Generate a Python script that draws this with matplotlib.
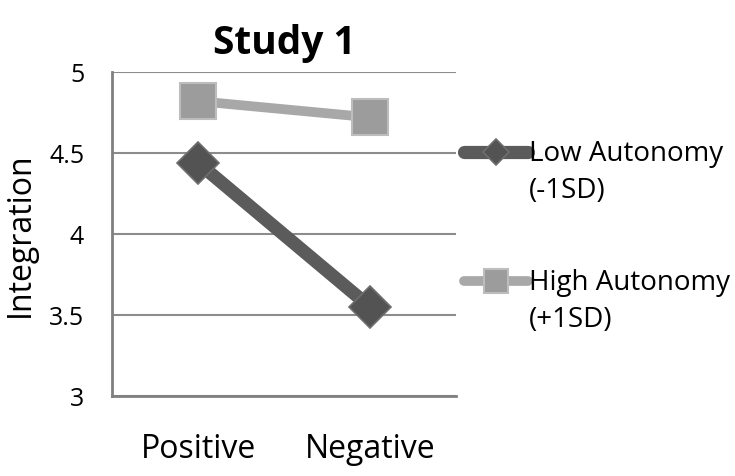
import matplotlib
matplotlib.use("Agg")
import matplotlib.pyplot as plt
from matplotlib.legend_handler import HandlerLine2D

plt.rcParams['font.family'] = ['Open Sans', 'DejaVu Sans']

conditions = ["Positive", "Negative"]
low_autonomy = [4.44, 3.55]
high_autonomy = [4.82, 4.72]
series_names = ["Low Autonomy\n(-1SD)", "High Autonomy\n(+1SD)"]
y_ticks = [3, 3.5, 4, 4.5, 5]


class FirstLineHandler(HandlerLine2D):
    # put the legend sample level with the first line of a two-line label
    def create_artists(self, legend, orig_handle, xdescent, ydescent,
                       width, height, fontsize, trans):
        return super().create_artists(legend, orig_handle, xdescent,
                                      ydescent - 1.45 * fontsize, width,
                                      height, fontsize, trans)


fig = plt.figure(figsize=(7.35, 4.77), dpi=100)
ax = fig.add_axes([112 / 735, 80 / 477, 344 / 735, 324 / 477])

x = range(len(conditions))
ax.plot(x, low_autonomy, color="#5b5b5b", lw=9.5, marker="D", ms=21,
        mfc="#535353", mec="#6e6e6e", mew=1.2, solid_capstyle="butt",
        label=series_names[0], zorder=3)
ax.plot(x, high_autonomy, color="#a8a8a8", lw=7, marker="s", ms=26,
        mfc="#9c9c9c", mec="#bdbdbd", mew=1.5, solid_capstyle="butt",
        label=series_names[1], zorder=3)

ax.set_xlim(-0.5, 1.5)
ax.set_ylim(3, 5)
ax.set_xticks(list(x))
ax.set_xticklabels(conditions, fontsize=23)
ax.set_yticks(y_ticks)
ax.set_yticklabels([f"{v:g}" for v in y_ticks], fontsize=18)
ax.tick_params(length=0)
ax.tick_params(axis="y", pad=20)
ax.tick_params(axis="x", pad=26)
ax.grid(axis="y", color="#8c8c8c", lw=1.5)
ax.set_axisbelow(True)
for side in ["top", "right"]:
    ax.spines[side].set_visible(False)
for side in ["left", "bottom"]:
    ax.spines[side].set_color("#808080")
    ax.spines[side].set_linewidth(2)

ax.set_ylabel("Integration", fontsize=23, labelpad=9)
ax.set_title("Study 1", fontsize=28, fontweight="bold", pad=14)

leg = ax.legend(loc="upper left", bbox_to_anchor=(464 / 735, 337 / 477),
                bbox_transform=fig.transFigure, frameon=False, fontsize=20,
                handlelength=2.3, handletextpad=0.05, labelspacing=2.28,
                markerscale=0.65, borderpad=0, borderaxespad=0,
                handler_map={plt.Line2D: FirstLineHandler(numpoints=1)})
for line in leg.get_lines():
    line.set_solid_capstyle("round")
for text in leg.get_texts():
    text.set_linespacing(1.45)

fig.savefig("out.png", dpi=100)
